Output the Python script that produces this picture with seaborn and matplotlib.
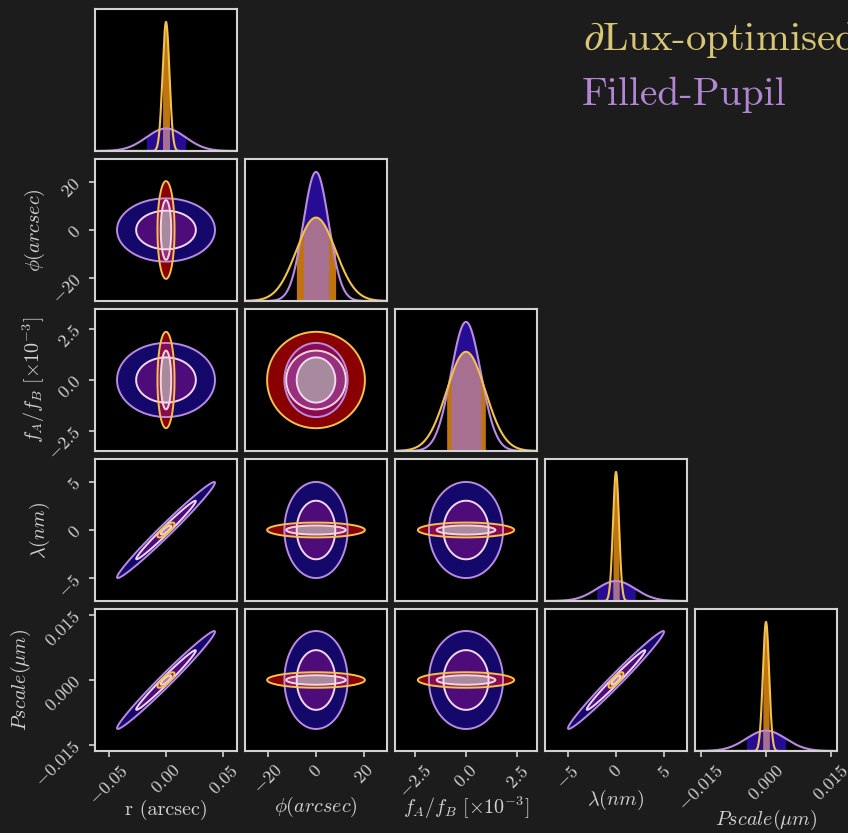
import numpy as np
import matplotlib
matplotlib.use("Agg")
import matplotlib.pyplot as plt
from matplotlib.colors import ListedColormap
import seaborn as sns

# ---------------- data ----------------
labels = ["r (arcsec)", r"$\phi(arcsec)$", r"$f_A/f_B\ [\times 10^{-3}]$",
          r"$\lambda(nm)$", r"$Pscale(\mu m)$"]
chain_names = [r"$\partial$Lux-optimised", "Filled-Pupil"]
mean = [0.0, 0.0, 0.0, 0.0, 0.0]
sigma_lux = [0.0030, 8.2, 0.95, 0.31, 0.00072]
sigma_fp = [0.0172, 5.3, 0.73, 2.0, 0.00455]
corr_lux = [[1.0, 0.0, 0.0, 0.8, 0.8],
            [0.0, 1.0, 0.0, 0.0, 0.0],
            [0.0, 0.0, 1.0, 0.0, 0.0],
            [0.8, 0.0, 0.0, 1.0, 0.8],
            [0.8, 0.0, 0.0, 0.8, 1.0]]
corr_fp = [[1.0, 0.0, 0.0, 0.985, 0.985],
           [0.0, 1.0, 0.0, 0.0, 0.0],
           [0.0, 0.0, 1.0, 0.0, 0.0],
           [0.985, 0.0, 0.0, 1.0, 0.985],
           [0.985, 0.0, 0.0, 0.985, 1.0]]
axis_half_range = [0.062, 29.6, 3.48, 7.35, 0.0164]
tick_values = [[-0.05, 0.0, 0.05], [-20, 0, 20], [-2.5, 0.0, 2.5], [-5, 0, 5], [-0.015, 0.0, 0.015]]
tick_labels = [["-0.05", "0.00", "0.05"], ["-20", "0", "20"], ["-2.5", "0.0", "2.5"],
               ["-5", "0", "5"], ["-0.015", "0.000", "0.015"]]

# ---------------- style ----------------
sns.set_theme(style="ticks")
BG = "#1c1c1c"
FG = "#d2d2d2"
plt.rcParams["font.family"] = ["cmr10", "DejaVu Serif"]
plt.rcParams["mathtext.fontset"] = "cm"
plt.rcParams["axes.unicode_minus"] = False
plt.rcParams["figure.facecolor"] = BG

lux_line_out = "#f2c24a"
lux_line_in = "#f8d6d8"
fp_line_out = "#b98ae4"
fp_line_in = "#f4d8f2"
# region colours: index = 3*level_lux + level_fp (0 outside, 1 between 1-2 sigma, 2 inside 1 sigma)
region_colors = ["#000000", "#14086a", "#4e0c7a",
                 "#8a0000", "#8a0a50", "#8c1c6c",
                 "#b05078", "#96307e", "#a88a9e"]
fill_fp_1d = "#260c92"
fill_lux_1d = "#c07410"
fill_both_1d = "#a87090"

D2_1 = -2 * np.log(1 - 0.6827)
D2_2 = -2 * np.log(1 - 0.9545)

fig = plt.figure(figsize=(8.48, 8.33), dpi=100)
W, H = 848.0, 833.0
col_x = [95, 245, 395, 545, 695]
row_y = [9, 159, 309, 459, 609]
size = 142
n = len(labels)
# label centre offsets (pixels from panel edge)
xlabel_offset = [59, 56, 57, 49, 69]
ylabel_offset = [0, 60, 61, 55, 74]


def cov2(sig, corr, a, b):
    return np.array([[sig[a] ** 2, corr[a][b] * sig[a] * sig[b]],
                     [corr[a][b] * sig[a] * sig[b], sig[b] ** 2]])


def d2grid(X, Y, C, mx, my):
    inv = np.linalg.inv(C)
    dx, dy = X - mx, Y - my
    return inv[0, 0] * dx * dx + 2 * inv[0, 1] * dx * dy + inv[1, 1] * dy * dy


def level(d2):
    return np.where(d2 < D2_1, 2, np.where(d2 < D2_2, 1, 0))


cmap = ListedColormap(region_colors)

for i in range(n):
    for j in range(i + 1):
        left = col_x[j] / W
        bottom = 1 - (row_y[i] + size) / H
        ax = fig.add_axes([left, bottom, size / W, size / H])
        ax.set_facecolor("black")
        for sp in ax.spines.values():
            sp.set_color(FG)
            sp.set_linewidth(1.5)
        xl = axis_half_range[j]
        ax.set_xlim(-xl, xl)
        if i == j:
            x = np.linspace(-xl, xl, 3000)
            sL, sF = sigma_lux[i], sigma_fp[i]
            yL = np.exp(-0.5 * ((x - mean[i]) / sL) ** 2) / (sL * np.sqrt(2 * np.pi))
            yF = np.exp(-0.5 * ((x - mean[i]) / sF) ** 2) / (sF * np.sqrt(2 * np.pi))
            inL = np.abs(x - mean[i]) <= sL
            inF = np.abs(x - mean[i]) <= sF
            ax.fill_between(x, 0, yF, where=inF, color=fill_fp_1d, lw=0)
            ax.fill_between(x, 0, yL, where=inL, color=fill_lux_1d, lw=0)
            ax.fill_between(x, 0, np.minimum(yL, yF), where=inL & inF, color=fill_both_1d, lw=0)
            sns.lineplot(x=x, y=yF, ax=ax, color=fp_line_out, lw=1.5)
            sns.lineplot(x=x, y=yL, ax=ax, color=lux_line_out, lw=1.5)
            ax.set_ylim(0, 1.1 * max(yL.max(), yF.max()))
            ax.set_yticks([])
            ax.set_ylabel("")
        else:
            yl = axis_half_range[i]
            gx = np.linspace(-xl, xl, 500)
            gy = np.linspace(-yl, yl, 500)
            X, Y = np.meshgrid(gx, gy)
            dL = d2grid(X, Y, cov2(sigma_lux, corr_lux, j, i), mean[j], mean[i])
            dF = d2grid(X, Y, cov2(sigma_fp, corr_fp, j, i), mean[j], mean[i])
            idx = 3 * level(dL) + level(dF)
            ax.imshow(idx, origin="lower", extent=[-xl, xl, -yl, yl], cmap=cmap,
                      vmin=-0.5, vmax=8.5, aspect="auto",
                      interpolation="antialiased", interpolation_stage="rgba")
            ax.contour(X, Y, dF, levels=[D2_1, D2_2], colors=[fp_line_in, fp_line_out], linewidths=1.4)
            ax.contour(X, Y, dL, levels=[D2_1, D2_2], colors=[lux_line_in, lux_line_out], linewidths=1.4)
            ax.set_xlim(-xl, xl)
            ax.set_ylim(-yl, yl)
            if j == 0:
                ax.set_yticks(tick_values[i])
                ax.set_yticklabels(["$" + s + "$" for s in tick_labels[i]], rotation=45)
                ax.set_ylabel(labels[i], color=FG, fontsize=14.5)
                ax.yaxis.label.set_va("center")
                ax.yaxis.set_label_coords(-ylabel_offset[i] / size, 0.5)
            else:
                ax.set_yticks([])
        if i == n - 1:
            ax.set_xticks(tick_values[j])
            ax.set_xticklabels(["$" + s + "$" for s in tick_labels[j]], rotation=45)
            ax.set_xlabel(labels[j], color=FG, fontsize=14.5)
            ax.xaxis.label.set_va("center")
            ax.xaxis.set_label_coords(0.5, -xlabel_offset[j] / size)
        else:
            ax.set_xticks([])
            ax.set_xlabel("")
        ax.tick_params(colors=FG, labelcolor=FG, labelsize=13, direction="out",
                       length=4.5, width=1.2)

fig.text(583 / W, 1 - 50 / H, chain_names[0], color="#d8c674", fontsize=29.3,
         ha="left", va="baseline")
fig.text(582 / W, 1 - 105 / H, chain_names[1], color="#b286d2", fontsize=28.5,
         ha="left", va="baseline")

fig.savefig("out.png", dpi=100, facecolor=BG)
